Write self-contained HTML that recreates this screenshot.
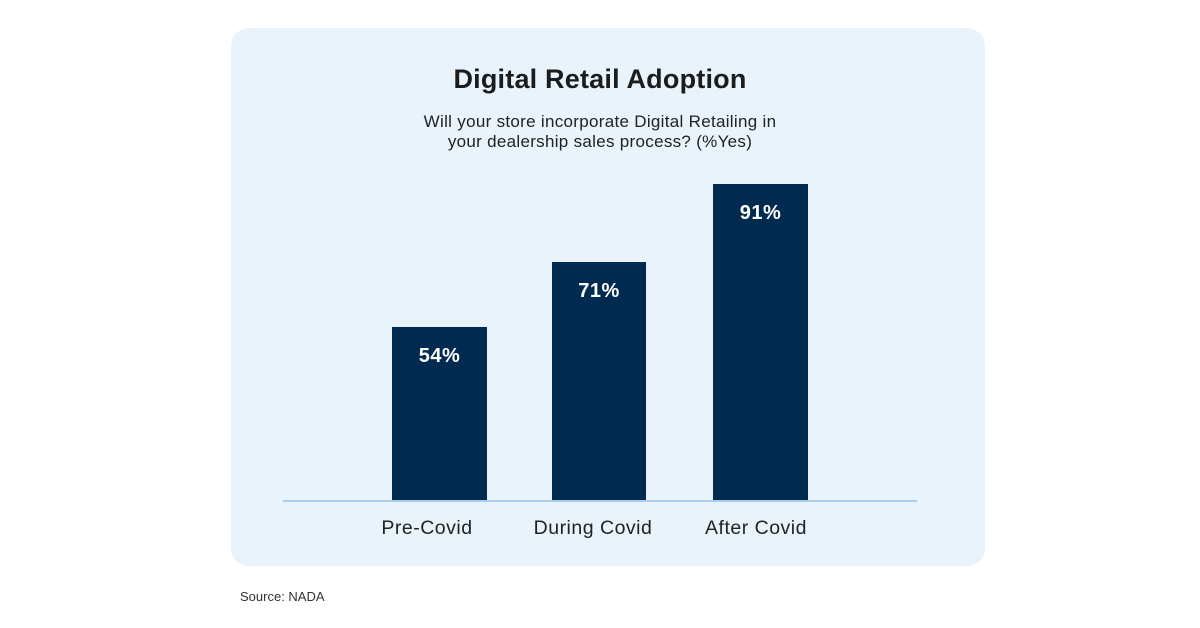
<!DOCTYPE html>
<html><head><style>
body{margin:0;width:1200px;height:628px;background:#fff;font-family:"Liberation Sans",sans-serif;position:relative;overflow:hidden}
.card{position:absolute;left:231px;top:28px;width:754px;height:538px;background:#e8f3fc;border-radius:18px}
.t{position:absolute;left:223px;width:754px;text-align:center;color:#1c1c1c}
.bar{position:absolute;background:#002a4f;color:#fff;font-weight:bold;font-size:20px;text-align:center;letter-spacing:0.5px}
.bar span{position:absolute;left:0;right:0;top:18px}
.lab{position:absolute;top:517px;font-size:19.5px;letter-spacing:0.5px;color:#222;text-align:center;width:180px}
</style></head><body>
<div class="card"></div>
<div class="t" style="top:64px;font-size:27px;font-weight:bold;letter-spacing:0.2px">Digital Retail Adoption</div>
<div class="t" style="top:112px;font-size:17px;line-height:20px;letter-spacing:0.3px;color:#222">Will your store incorporate Digital Retailing in<br>your dealership sales process? (%Yes)</div>
<div class="bar" style="left:392px;top:327px;width:95px;height:174px"><span>54%</span></div>
<div class="bar" style="left:552px;top:262px;width:94px;height:239px"><span>71%</span></div>
<div class="bar" style="left:713px;top:184px;width:95px;height:317px"><span>91%</span></div>
<div style="position:absolute;left:283px;top:500px;width:634px;height:2px;background:#a9cdea"></div>
<div class="lab" style="left:337px">Pre-Covid</div>
<div class="lab" style="left:503px">During Covid</div>
<div class="lab" style="left:666px">After Covid</div>
<div style="position:absolute;left:240px;top:589px;font-size:13px;color:#333">Source: NADA</div>
</body></html>
